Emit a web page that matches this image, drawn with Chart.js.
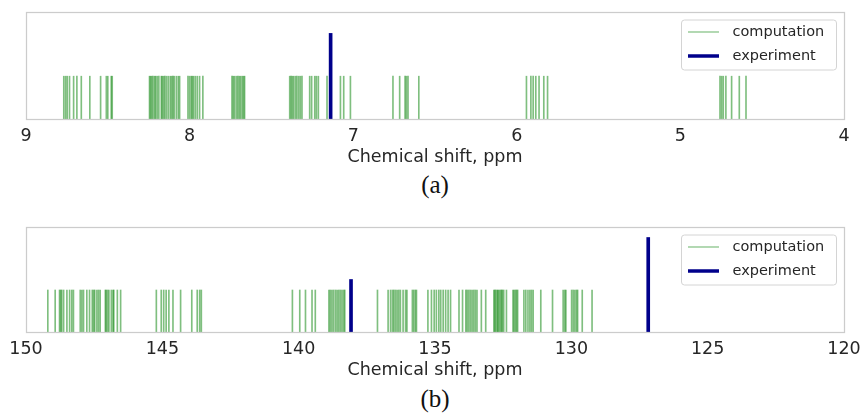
<!DOCTYPE html>
<html><head><meta charset="utf-8">
<script src="https://cdn.jsdelivr.net/npm/chart.js@4/dist/chart.umd.min.js"></script>
<style>
html,body{margin:0;padding:0;background:#fff;}
#wrap{position:relative;width:861px;height:415px;overflow:hidden;background:#fff;}
.pane{position:absolute;left:0;width:861px;}
.cap{position:absolute;width:100px;text-align:center;font-family:"Liberation Serif","Times New Roman",serif;font-size:25px;color:#111;line-height:25px;}
</style></head><body>
<div id="wrap">
<div class="pane" style="top:0"><canvas id="ca" width="861" height="168"></canvas></div>
<div class="pane" style="top:215px"><canvas id="cb" width="861" height="166"></canvas></div>
<div class="cap" style="left:385px;top:172px">(a)</div>
<div class="cap" style="left:385px;top:386px">(b)</div>
</div>
<script>
// ---- Data: panel (a) 1H shifts, ppm ----
const compA = [8.769,8.758,8.748,8.734,8.709,8.689,8.662,8.610,8.544,8.509,8.500,8.479,8.473,
  8.245,8.239,8.232,8.224,8.214,8.208,8.198,8.188,8.173,8.167,8.159,8.151,8.141,8.130,8.118,8.110,8.102,8.094,8.081,8.069,8.061,
  8.010,8.000,7.990,7.983,7.976,7.965,7.953,7.939,7.919,
  7.741,7.733,7.725,7.714,7.705,7.696,7.688,7.678,7.670,7.664,
  7.388,7.380,7.372,7.364,7.353,7.344,7.333,7.323,7.313,
  7.266,7.254,7.235,7.225,7.213,7.160,7.078,7.058,7.017,
  6.757,6.716,6.683,6.675,6.665,6.599,
  5.941,5.914,5.900,5.884,5.864,5.835,5.812,
  4.758,4.748,4.738,4.722,4.687,4.640,4.599];
const compAHeight = 0.4;
const expA = [7.138];
const expAHeight = [0.8];
const ticksA = [9,8,7,6,5,4];

// ---- Data: panel (b) 13C shifts, ppm ----
const compB = [149.20,148.93,148.77,148.73,148.69,148.62,148.50,148.40,148.32,148.26,148.01,147.95,147.89,147.77,147.67,147.57,147.52,147.48,147.40,147.34,147.28,147.09,147.06,147.01,146.96,146.87,146.81,146.78,146.65,146.53,
  145.22,145.04,144.95,144.86,144.76,144.61,144.33,143.92,143.72,143.63,143.57,
  140.23,139.96,139.75,139.51,139.39,
  138.89,138.84,138.78,138.72,138.65,138.59,138.53,138.47,138.41,138.35,138.31,137.11,
  136.72,136.63,136.56,136.51,136.45,136.39,136.33,136.27,136.17,136.08,136.03,135.83,135.78,135.72,135.68,
  135.26,135.13,135.03,134.95,134.86,134.79,134.70,134.61,134.52,134.43,
  134.12,133.99,133.87,133.82,133.76,133.70,133.64,133.58,133.52,133.46,133.30,133.14,
  132.84,132.81,132.77,132.72,132.69,132.65,132.60,132.56,132.53,132.48,132.38,
  132.14,132.10,132.05,132.01,131.97,
  131.74,131.67,131.59,131.52,131.46,131.40,131.12,130.69,
  130.30,130.24,130.20,129.99,129.93,129.87,129.81,129.77,129.60,129.24];
const compBHeight = 0.4;
const expB = [138.08,127.18];
const expBHeight = [0.5,0.9];
const ticksB = [150,145,140,135,130,125,120];

const seriesNames = ['computation','experiment'];
const axisTitle = 'Chemical shift, ppm';

const GREEN = 'rgba(0,128,0,0.5)';
const NAVY = '#00008B';
const TXT = '#262626';
const FONT = '"DejaVu Sans", sans-serif';

const framePlugin = {
  id: 'frameLegend',
  afterDatasetsDraw(chart) {
    const {ctx, chartArea: a} = chart;
    ctx.save();
    ctx.strokeStyle = '#cccccc';
    ctx.lineWidth = 1.25;
    ctx.strokeRect(a.left + 0.5, a.top + 0.5, a.right - a.left, a.bottom - a.top);
    // legend
    const bx = a.right - 162.5, by = a.top + 8, bw = 155, bh = 50, r = 3;
    ctx.beginPath();
    ctx.moveTo(bx + r, by);
    ctx.lineTo(bx + bw - r, by); ctx.quadraticCurveTo(bx + bw, by, bx + bw, by + r);
    ctx.lineTo(bx + bw, by + bh - r); ctx.quadraticCurveTo(bx + bw, by + bh, bx + bw - r, by + bh);
    ctx.lineTo(bx + r, by + bh); ctx.quadraticCurveTo(bx, by + bh, bx, by + bh - r);
    ctx.lineTo(bx, by + r); ctx.quadraticCurveTo(bx, by, bx + r, by);
    ctx.closePath();
    ctx.fillStyle = 'rgba(255,255,255,0.85)';
    ctx.fill();
    ctx.strokeStyle = '#d4d4d4';
    ctx.lineWidth = 1;
    ctx.stroke();
    chart.data.datasets.forEach((ds, i) => {
      const y = a.top + 20 + i * 24;
      ctx.beginPath();
      ctx.strokeStyle = ds.backgroundColor;
      ctx.lineWidth = ds.legendWidth;
      ctx.moveTo(a.right - 156, y);
      ctx.lineTo(a.right - 125, y);
      ctx.stroke();
      ctx.fillStyle = TXT;
      ctx.font = '14.5px ' + FONT;
      ctx.textBaseline = 'middle';
      ctx.textAlign = 'left';
      ctx.fillText(ds.label, a.right - 111.5, y);
    });
    ctx.restore();
  }
};

function makeChart(id, comp, compH, exp, expH, ticks) {
  const lo = Math.min(...ticks), hi = Math.max(...ticks);
  const step = Math.abs(ticks[1] - ticks[0]);
  return new Chart(document.getElementById(id), {
    type: 'bar',
    data: {
      datasets: [
        {label: seriesNames[0], data: comp.map(v => ({x: v, y: compH})),
         backgroundColor: GREEN, barThickness: 1, grouped: false, borderWidth: 0, legendWidth: 1.2},
        {label: seriesNames[1], data: exp.map((v, i) => ({x: v, y: expH[i]})),
         backgroundColor: NAVY, barThickness: 3, grouped: false, borderWidth: 0, legendWidth: 3.5}
      ]
    },
    options: {
      responsive: false,
      animation: false,
      devicePixelRatio: 1,
      layout: {padding: {left: 26, right: 17, top: 12, bottom: 0}},
      plugins: {legend: {display: false}, tooltip: {enabled: false}},
      scales: {
        x: {
          type: 'linear', min: lo, max: hi, reverse: true, offset: false,
          grid: {display: false, drawTicks: false},
          border: {display: false},
          ticks: {stepSize: step, padding: 7, color: TXT, font: {family: FONT, size: 17.5}, maxRotation: 0, autoSkip: false},
          title: {display: true, text: axisTitle, color: TXT, font: {family: FONT, size: 17.5}, padding: {top: -7, bottom: 0}},
          afterFit(scale) { scale.paddingLeft = 0; scale.paddingRight = 0; }
        },
        y: {display: false, min: 0, max: 1}
      }
    },
    plugins: [framePlugin]
  });
}

makeChart('ca', compA, compAHeight, expA, expAHeight, ticksA);
makeChart('cb', compB, compBHeight, expB, expBHeight, ticksB);
</script>
</body></html>
